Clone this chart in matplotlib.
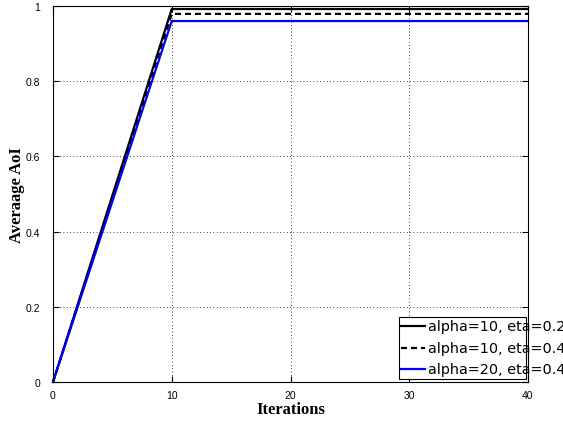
import matplotlib
matplotlib.use('Agg')
import matplotlib.pyplot as plt
from matplotlib.patches import Rectangle

# --- data ---
iters = [0, 10, 20, 30, 40]
aoi_a10_e02 = [0, 0.992, 0.992, 0.992, 0.992]
aoi_a10_e04 = [0, 0.979, 0.979, 0.979, 0.979]
aoi_a20_e04 = [0, 0.960, 0.960, 0.960, 0.960]

labels = ['alpha=10, eta=0.2', 'alpha=10, eta=0.4', 'alpha=20, eta=0.4']
colors = ['black', 'black', 'blue']
styles = ['-', (0, (2.7, 1.8)), '-']
series = [aoi_a10_e02, aoi_a10_e04, aoi_a20_e04]

x_ticks = [0, 10, 20, 30, 40]
y_ticks = [0, 0.2, 0.4, 0.6, 0.8, 1]
y_tick_labels = ['0', '0.2', '0.4', '0.6', '0.8', '1']

plt.rcParams['font.family'] = ['Liberation Sans', 'DejaVu Sans']
W, H = 563, 427

fig = plt.figure(figsize=(W / 100, H / 100), dpi=100)
ax = fig.add_axes([53 / W, 1 - 383 / H, 475 / W, 376 / H])

for ys, c, ls in zip(series, colors, styles):
    ax.plot(iters, ys, color=c, linestyle=ls, linewidth=1.6, clip_on=False)

ax.set_xlim(0, 40)
ax.set_ylim(0, 1)
ax.set_xticks(x_ticks)
ax.set_yticks(y_ticks)
ax.set_yticklabels(y_tick_labels)
ax.tick_params(direction='in', labelsize=7.5, length=4, top=True, right=True)
ax.tick_params(axis='y', pad=9)
ax.tick_params(axis='x', pad=6)
ax.grid(True, color='black', linestyle=(0, (1, 3)), linewidth=0.6)
for s in ax.spines.values():
    s.set_linewidth(0.8)

serif = ['Liberation Serif', 'DejaVu Serif']
ax.set_xlabel('Iterations', family=serif, fontweight='bold', fontsize=12)
ax.set_ylabel('Averaage AoI', family=serif, fontweight='bold', fontsize=12)
ax.xaxis.set_label_coords(0.5, -(402 - 383) / 376)
ax.yaxis.set_label_coords((17 - 53) / 475, 0.5)
ax.yaxis.label.set_va('center')

# legend drawn by hand: the box is narrower than its text, as in the original
box_l, box_r, box_t, box_b = 399, 526, 318, 380
fig.add_artist(Rectangle((box_l / W, 1 - box_b / H), (box_r - box_l) / W,
                         (box_b - box_t) / H, transform=fig.transFigure,
                         facecolor='white', edgecolor='black', linewidth=0.8,
                         zorder=5))
rows = [327, 349, 370]
for lab, c, ls, ry in zip(labels, colors, styles, rows):
    yf = 1 - ry / H
    fig.add_artist(plt.Line2D([401 / W, 425 / W], [yf, yf], color=c,
                              linestyle=ls, linewidth=1.6, zorder=6,
                              transform=fig.transFigure))
    fig.text(428 / W, yf, lab, fontsize=10.4, va='center', ha='left', zorder=6,
             family=['DejaVu Sans'])

fig.savefig('out.png', dpi=100)
